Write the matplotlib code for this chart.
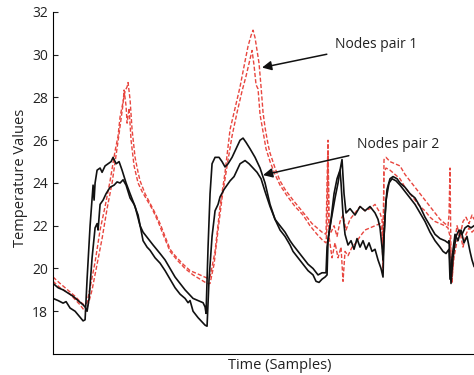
import matplotlib
matplotlib.use("Agg")
import matplotlib.pyplot as plt
import numpy as np

plt.rcParams['font.family'] = ['Open Sans', 'DejaVu Sans']

# sample positions (time samples) and temperature values for each series
black1_x = [0, 5, 10, 13, 17, 22, 27, 30, 32, 34, 37, 40, 41, 42, 44, 47, 49, 52, 55, 58, 60, 63, 66, 69, 73, 77, 82, 87, 90, 95, 100, 107, 112, 117, 122, 127, 132, 135, 140, 145, 150, 152, 153, 155, 157, 159, 162, 166, 169, 172, 175, 179, 183, 187, 190, 193, 197, 202, 207, 212, 217, 222, 227, 232, 237, 240, 245, 250, 255, 260, 265, 269, 273, 274, 276, 279, 282, 285, 287, 289, 291, 293, 297, 302, 307, 312, 317, 322, 325, 327, 329, 330, 332, 334, 337, 340, 344, 347, 352, 357, 362, 367, 372, 377, 382, 387, 392, 395, 396, 397, 398, 400, 403, 406, 409, 412, 415, 418, 421]
black1_y = [18.6, 18.5, 18.38, 18.45, 18.15, 18.0, 17.72, 17.55, 17.6, 19.5, 22.0, 23.9, 23.2, 24.0, 24.6, 24.7, 24.5, 24.8, 24.9, 25.0, 25.2, 24.9, 25.0, 24.6, 24.0, 23.5, 22.9, 22.0, 21.7, 21.4, 21.1, 20.7, 20.4, 20.0, 19.6, 19.3, 19.0, 18.85, 18.6, 18.5, 18.4, 18.2, 17.9, 21.0, 23.5, 24.9, 25.2, 25.2, 25.0, 24.75, 24.9, 25.2, 25.6, 26.0, 26.1, 25.9, 25.6, 25.2, 24.7, 24.0, 23.0, 22.3, 22.0, 21.7, 21.3, 21.1, 20.8, 20.5, 20.2, 20.0, 19.7, 19.8, 19.8, 21.0, 21.7, 22.5, 23.3, 24.0, 24.6, 25.1, 23.5, 22.6, 22.8, 22.5, 22.9, 22.7, 22.9, 22.6, 22.3, 21.9, 21.0, 20.4, 22.5, 23.7, 24.2, 24.3, 24.2, 24.0, 23.8, 23.5, 23.3, 22.9, 22.4, 22.0, 21.6, 21.4, 21.3, 21.2, 21.3, 20.2, 19.3, 20.5, 21.5, 21.8, 21.6, 21.9, 22.0, 21.9, 22.0]

black2_x = [0, 5, 10, 15, 20, 25, 30, 32, 34, 36, 39, 42, 44, 45, 47, 50, 53, 57, 61, 64, 67, 70, 73, 75, 77, 81, 85, 90, 94, 97, 102, 107, 112, 117, 122, 127, 132, 135, 137, 140, 145, 149, 152, 154, 156, 159, 162, 165, 167, 171, 174, 177, 181, 184, 187, 192, 196, 200, 204, 208, 212, 217, 222, 227, 232, 237, 240, 245, 250, 255, 260, 263, 266, 269, 272, 274, 275, 278, 281, 284, 287, 288, 290, 292, 295, 298, 301, 304, 307, 310, 313, 316, 319, 322, 325, 328, 330, 331, 333, 336, 339, 343, 347, 352, 357, 362, 367, 372, 377, 382, 387, 390, 393, 396, 397, 399, 402, 405, 408, 411, 414, 417, 419, 421]
black2_y = [19.3, 19.1, 19.0, 18.85, 18.7, 18.5, 18.3, 18.2, 18.0, 18.6, 20.5, 21.9, 22.1, 21.8, 23.0, 23.2, 23.5, 23.8, 23.9, 24.05, 24.0, 24.15, 23.9, 23.6, 23.3, 23.0, 22.5, 21.3, 21.0, 20.85, 20.5, 20.25, 19.9, 19.5, 19.1, 18.8, 18.6, 18.4, 18.5, 18.0, 17.7, 17.5, 17.35, 17.3, 19.5, 21.5, 22.7, 23.0, 23.35, 23.7, 23.9, 24.1, 24.3, 24.6, 24.9, 25.05, 24.9, 24.7, 24.5, 24.2, 23.6, 22.9, 22.3, 21.8, 21.5, 21.1, 20.8, 20.5, 20.2, 19.9, 19.7, 19.4, 19.35, 19.5, 19.6, 19.7, 21.3, 22.3, 23.5, 24.2, 24.6, 24.0, 22.5, 21.6, 21.1, 21.3, 20.9, 21.4, 21.0, 21.3, 20.9, 21.2, 20.8, 20.9, 20.4, 20.0, 19.6, 21.5, 23.2, 24.0, 24.2, 24.1, 23.9, 23.6, 23.3, 23.0, 22.6, 22.2, 21.7, 21.3, 21.0, 20.8, 20.7, 20.9, 19.5, 20.5, 21.6, 21.3, 21.8, 21.2, 21.5, 20.8, 20.4, 20.1]

red1_x = [0, 7, 12, 17, 22, 27, 31, 34, 37, 42, 47, 52, 57, 62, 65, 67, 70, 72, 74, 75, 77, 79, 82, 85, 87, 92, 97, 102, 107, 112, 117, 122, 130, 137, 147, 154, 157, 162, 167, 172, 177, 182, 187, 192, 195, 198, 200, 202, 204, 206, 208, 210, 212, 215, 217, 222, 227, 232, 240, 247, 254, 259, 264, 269, 273, 274, 275, 276, 278, 281, 284, 287, 290, 293, 297, 302, 307, 312, 317, 322, 327, 329, 330, 331, 333, 337, 342, 347, 352, 357, 362, 367, 372, 377, 382, 387, 392, 395, 396, 397, 398, 399, 401, 404, 407, 410, 413, 416, 419, 421]
red1_y = [19.6, 19.3, 19.1, 18.9, 18.7, 18.45, 18.3, 18.4, 19.1, 20.3, 21.8, 22.9, 24.1, 25.5, 26.2, 27.1, 27.8, 28.3, 28.5, 28.7, 27.9, 26.5, 25.2, 24.5, 24.1, 23.5, 23.05, 22.6, 22.1, 21.5, 20.9, 20.6, 20.2, 19.9, 19.7, 19.55, 19.6, 20.8, 22.9, 24.5, 26.5, 27.5, 28.5, 29.7, 30.4, 30.9, 31.15, 30.8, 30.2, 29.6, 28.5, 27.3, 26.6, 25.8, 25.4, 24.7, 24.1, 23.7, 23.2, 22.8, 22.4, 22.1, 21.9, 21.7, 21.6, 24.0, 26.0, 22.0, 21.7, 22.0, 21.5, 22.2, 22.5, 21.8, 22.3, 22.6, 22.9, 22.7, 22.8, 23.0, 22.6, 22.3, 21.0, 25.1, 25.2, 25.0, 24.9, 24.8, 24.4, 24.1, 23.8, 23.5, 23.2, 22.9, 22.6, 22.3, 22.1, 22.0, 22.5, 24.7, 20.5, 19.3, 21.0, 22.0, 21.5, 22.2, 22.4, 22.1, 22.5, 22.3]

red2_x = [0, 7, 12, 17, 22, 27, 31, 33, 35, 39, 44, 49, 54, 59, 63, 66, 68, 70, 71, 73, 74, 76, 78, 81, 85, 89, 94, 99, 105, 110, 117, 124, 132, 140, 147, 154, 157, 161, 165, 169, 174, 179, 184, 189, 193, 197, 199, 201, 203, 205, 207, 210, 213, 217, 222, 227, 234, 242, 250, 257, 264, 270, 273, 274, 275, 276, 279, 282, 285, 288, 290, 292, 295, 299, 303, 307, 312, 317, 322, 327, 329, 330, 331, 333, 337, 342, 347, 352, 357, 362, 367, 372, 377, 382, 387, 392, 395, 397, 399, 401, 404, 407, 410, 413, 416, 419, 421]
red2_y = [19.4, 19.1, 18.95, 18.8, 18.55, 18.3, 18.05, 18.0, 18.3, 19.0, 20.2, 21.4, 22.8, 24.0, 25.3, 26.3, 27.0, 27.7, 28.35, 27.6, 26.8, 27.5, 26.0, 24.8, 24.0, 23.6, 23.2, 22.8, 22.2, 21.6, 20.8, 20.4, 20.0, 19.7, 19.5, 19.3, 19.3, 20.2, 21.8, 23.3, 24.8, 26.2, 27.3, 28.3, 29.0, 29.8, 30.2, 29.5, 28.6, 28.4, 27.2, 26.4, 25.6, 25.0, 24.4, 23.9, 23.4, 22.9, 22.5, 22.0, 21.6, 21.3, 21.2, 22.0, 25.5, 21.5, 20.5, 21.2, 20.5, 21.0, 19.4, 20.8, 20.6, 21.0, 21.2, 21.5, 21.8, 21.9, 22.0, 22.1, 21.8, 19.8, 24.5, 24.7, 24.6, 24.4, 24.2, 23.8, 23.5, 23.2, 22.9, 22.7, 22.4, 22.2, 22.1, 22.0, 21.9, 21.5, 19.6, 20.5, 21.3, 21.7, 21.0, 21.6, 21.9, 21.7, 21.8]

y_ticks = [18, 20, 22, 24, 26, 28, 30, 32]
annotations = [("Nodes pair 1", (209, 29.4), (282, 30.5)),
               ("Nodes pair 2", (210, 24.37), (304, 25.8))]

fig = plt.figure(figsize=(4.74, 3.75), dpi=100)
ax = fig.add_axes([0.112, 0.056, 0.888, 0.912])

red = '#e8463f'
ax.plot(red1_x, red1_y, color=red, lw=1.0, ls=(0, (3, 1.5)))
ax.plot(red2_x, red2_y, color=red, lw=1.0, ls=(0, (3, 1.5)))
ax.plot(black1_x, black1_y, color='#111111', lw=1.2)
ax.plot(black2_x, black2_y, color='#111111', lw=1.2)

for label, tip, txt in annotations:
    ax.annotate(label, xy=tip, xytext=txt, ha='left', va='center', fontsize=10,
                color='#222222',
                arrowprops=dict(arrowstyle='-|>', color='#111111', lw=1.1,
                                mutation_scale=14, shrinkA=4, shrinkB=0))

ax.set_xlim(0, 421)
ax.set_ylim(16, 32)
ax.set_yticks(y_ticks)
ax.set_xticks([])
ax.tick_params(axis='y', direction='in', length=3.5, labelsize=10, colors='#222222')
for s in ['top', 'right']:
    ax.spines[s].set_visible(False)
ax.set_xlabel('Time (Samples)', fontsize=10.5, color='#222222')
ax.xaxis.set_label_coords(0.539, -0.012)
ax.set_ylabel('Temperature Values', fontsize=10.5, color='#222222')
ax.yaxis.set_label_coords(-0.059, 0.515)

fig.savefig('out.png', dpi=100)
